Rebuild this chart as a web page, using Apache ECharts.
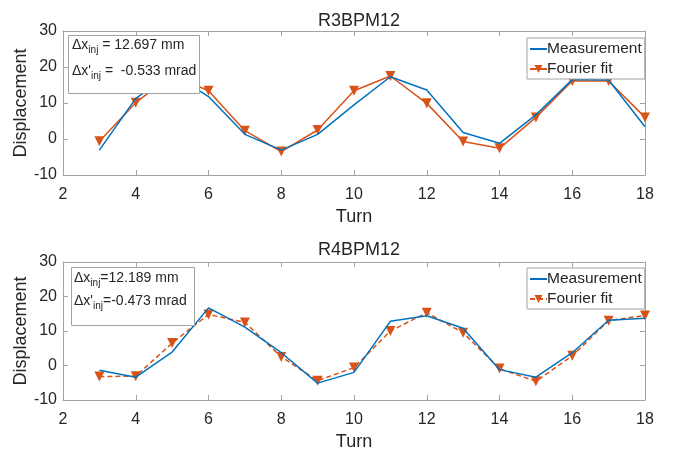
<!DOCTYPE html>
<html>
<head>
<meta charset="utf-8">
<script src="https://cdn.jsdelivr.net/npm/echarts@6/dist/echarts.min.js"></script>
<style>
  html, body { margin: 0; padding: 0; background: #fff; }
</style>
</head>
<body>
<div id="chart" style="width: 673px; height: 452px"></div>
<script>
const turns = [3, 4, 5, 6, 7, 8, 9, 10, 11, 12, 13, 14, 15, 16, 17, 18]

const r3Measurement = [-3.1, 11.3, 18.2, 11.8, 1.3, -3.1, 1.3, 9.5, 17.3, 13.6, 1.8, -1.2, 6.7, 16.5, 16.4, 3.4]
const r3Fit = [-0.6, 10.1, 17.8, 13.4, 2.3, -3.5, 2.5, 13.4, 17.5, 9.9, -0.7, -2.6, 6.0, 16.1, 16.1, 6.0]
const r4Measurement = [-1.4, -3.4, 3.9, 16.7, 11.1, 3.7, -5.1, -2.0, 12.8, 14.4, 10.8, -1.2, -3.4, 3.7, 13.1, 13.7]
const r4Fit = [-3.2, -3.1, 6.5, 14.8, 12.5, 2.5, -4.4, -0.6, 10.0, 15.3, 9.5, -0.9, -4.6, 2.8, 13.0, 14.5]

const titles = ['R3BPM12', 'R4BPM12']

const blue = '#0072BD'
const orange = '#D95319'
const frame = '#a3a3a3'
const textColor = '#262626'
const font = 'Liberation Sans, Arial, sans-serif'

const grids = [
  { left: 63, right: 28, top: 31, height: 144 },
  { left: 63, right: 28, top: 262, height: 144 }
]

const pair = (xs, ys) => xs.map((x, i) => [x, ys[i]])

function xAxes(gi) {
  return [
    {
      gridIndex: gi, type: 'value', min: 2, max: 18, interval: 2,
      name: 'Turn', nameLocation: 'middle', nameGap: 33, nameMoveOverlap: false,
      nameTextStyle: { fontSize: 18, color: textColor, fontFamily: font },
      axisLine: { onZero: false, lineStyle: { color: frame } },
      axisTick: { inside: true, length: 5, lineStyle: { color: frame } },
      axisLabel: { fontSize: 16, color: textColor, fontFamily: font, margin: 12 },
      splitLine: { show: false }
    },
    {
      gridIndex: gi, type: 'value', min: 2, max: 18, interval: 2, position: 'top',
      axisLine: { onZero: false, lineStyle: { color: frame } },
      axisTick: { inside: true, length: 5, lineStyle: { color: frame } },
      axisLabel: { show: false },
      splitLine: { show: false }
    }
  ]
}

function yAxes(gi) {
  return [
    {
      gridIndex: gi, type: 'value', min: -10, max: 30, interval: 10,
      name: 'Displacement', nameLocation: 'middle', nameGap: 33, nameMoveOverlap: false,
      nameTextStyle: { fontSize: 18, color: textColor, fontFamily: font },
      axisLine: { show: true, onZero: false, lineStyle: { color: frame } },
      axisTick: { show: true, inside: true, length: 5, lineStyle: { color: frame } },
      axisLabel: { fontSize: 16, color: textColor, fontFamily: font, margin: 6 },
      splitLine: { show: false }
    },
    {
      gridIndex: gi, type: 'value', min: -10, max: 30, interval: 10, position: 'right',
      axisLine: { show: true, onZero: false, lineStyle: { color: frame } },
      axisTick: { show: true, inside: true, length: 5, lineStyle: { color: frame } },
      axisLabel: { show: false },
      splitLine: { show: false }
    }
  ]
}

function fitSeries(name, data, axis, dashed) {
  return {
    name, type: 'line', xAxisIndex: axis, yAxisIndex: axis,
    data, symbol: 'triangle', symbolRotate: 180, symbolSize: 10,
    showSymbol: true, animation: false,
    itemStyle: { color: orange },
    lineStyle: { color: orange, width: 1.5, type: dashed ? [5, 3] : 'solid' },
    z: 2
  }
}

function measSeries(name, data, axis) {
  return {
    name, type: 'line', xAxisIndex: axis, yAxisIndex: axis,
    data, symbol: 'none', animation: false,
    itemStyle: { color: blue },
    lineStyle: { color: blue, width: 1.5 },
    z: 3
  }
}

function legend(top, names) {
  return {
    orient: 'vertical', left: 527, top,
    padding: [3, 3, 2, 2], itemGap: 4, itemWidth: 17, itemHeight: 10,
    borderColor: frame, borderWidth: 1, backgroundColor: '#fff',
    textStyle: { fontSize: 15.5, color: textColor, fontFamily: font, padding: [0, 0, 0, -5] },
    formatter: (n) => n.replace(' (R4)', ''),
    data: [
      { name: names[0], itemStyle: { opacity: 0 } },
      { name: names[1] }
    ]
  }
}

const rich = {
  d: { fontSize: 14, color: textColor, fontFamily: font },
  s: { fontSize: 10, color: textColor, fontFamily: font, padding: [11, 0, 0, 0] }
}

function textLine(x, y, str) {
  return { type: 'text', left: x, top: y, z: 10, style: { text: str, rich, fill: textColor } }
}

function box(x, y, w, h) {
  return { type: 'rect', left: x, top: y, z: 9, shape: { width: w, height: h }, style: { fill: '#fff', stroke: frame, lineWidth: 1 } }
}

const option = {
  backgroundColor: '#fff',
  title: titles.map((t, i) => ({
    text: t, left: 354, textAlign: 'center', top: i === 0 ? 7 : 236,
    textStyle: { fontSize: 18, fontWeight: 'normal', color: textColor, fontFamily: font }
  })),
  grid: grids,
  xAxis: [...xAxes(0), ...xAxes(1)],
  yAxis: [...yAxes(0), ...yAxes(1)],
  legend: [
    legend(38, ['Measurement', 'Fourier fit']),
    legend(268, ['Measurement (R4)', 'Fourier fit (R4)'])
  ],
  series: [
    fitSeries('Fourier fit', pair(turns, r3Fit), 0, false),
    measSeries('Measurement', pair(turns, r3Measurement), 0),
    fitSeries('Fourier fit (R4)', pair(turns, r4Fit), 2, true),
    measSeries('Measurement (R4)', pair(turns, r4Measurement), 2)
  ],
  graphic: [
    box(68, 35, 131, 58),
    textLine(72, 38, "{d|Δx}{s|inj}{d| = 12.697 mm}"),
    textLine(72, 64, "{d|Δx'}{s|inj}{d| =  -0.533 mrad}"),
    box(71, 267, 123, 58),
    textLine(74, 271, "{d|Δx}{s|inj}{d|=12.189 mm}"),
    textLine(74, 294, "{d|Δx'}{s|inj}{d|=-0.473 mrad}")
  ]
}

const myChart = echarts.init(document.getElementById('chart'))
myChart.setOption(option)
</script>
</body>
</html>
